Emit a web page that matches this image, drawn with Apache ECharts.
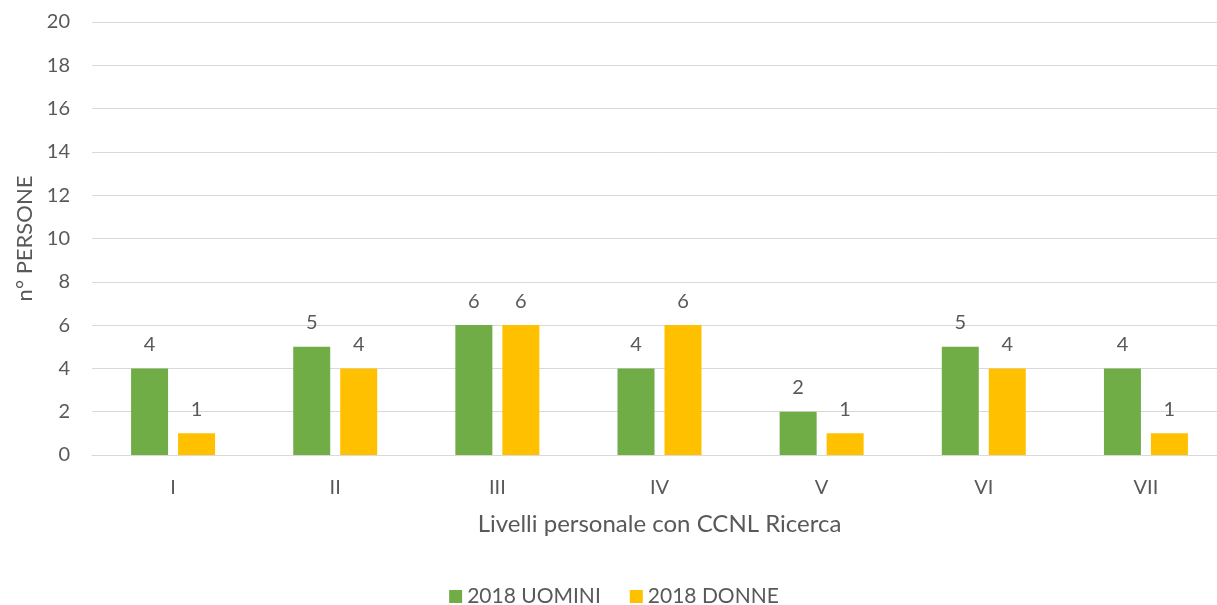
<!DOCTYPE html>
<html>
<head>
<meta charset="utf-8">
<script src="https://cdn.jsdelivr.net/npm/echarts@6/dist/echarts.min.js"></script>
<style>
  html, body { margin: 0; padding: 0; background: #fff; overflow: hidden; }
  /* plot area runs slightly past the right edge of the window */
  #chart { width: 1228px; height: 605px; }
</style>
</head>
<body>
<div id="chart"></div>
<script>
// Livelli CCNL Ricerca
const categories = ['I', 'II', 'III', 'IV', 'V', 'VI', 'VII'];
// Personale per genere, anno 2018
const uomini = [4, 5, 6, 4, 2, 5, 4];
const donne = [1, 4, 6, 6, 1, 4, 1];
const seriesNames = ['2018 UOMINI', '2018 DONNE'];

const textColor = '#595959';
const font = 'Lato, "Open Sans", sans-serif';

const chart = echarts.init(document.getElementById('chart'), null, { renderer: 'canvas' });

const labelStyle = {
  show: true,
  position: 'top',
  distance: 14,
  color: textColor,
  fontFamily: font,
  fontSize: 20
};

chart.setOption({
  animation: false,
  textStyle: { fontFamily: font, color: textColor },
  grid: { left: 92, top: 22, right: 1, height: 433, containLabel: false },
  legend: {
    bottom: -7,
    left: 'center',
    itemWidth: 13,
    itemHeight: 13,
    itemGap: 29,
    icon: 'rect',
    textStyle: { color: textColor, fontSize: 21, fontFamily: font },
    data: seriesNames
  },
  xAxis: {
    type: 'category',
    data: categories,
    name: 'Livelli personale con CCNL Ricerca',
    nameLocation: 'middle',
    nameGap: 57,
    nameTextStyle: { color: textColor, fontSize: 24, fontFamily: font },
    axisLine: { lineStyle: { color: '#D9D9D9', width: 1 } },
    axisTick: { show: false },
    axisLabel: { color: textColor, fontSize: 20, margin: 23, fontFamily: font }
  },
  yAxis: {
    type: 'value',
    min: 0,
    max: 20,
    interval: 2,
    name: 'n° PERSONE',
    nameLocation: 'middle',
    nameGap: 56,
    nameRotate: 90,
    nameTextStyle: { color: textColor, fontSize: 22, fontFamily: font },
    axisLine: { show: false },
    axisTick: { show: false },
    axisLabel: { color: textColor, fontSize: 20, margin: 22, fontFamily: font },
    splitLine: { lineStyle: { color: '#D9D9D9', width: 1 } }
  },
  series: [
    {
      name: seriesNames[0],
      type: 'bar',
      data: uomini,
      barWidth: 37,
      barGap: '27%',
      itemStyle: { color: '#70AD47' },
      label: labelStyle
    },
    {
      name: seriesNames[1],
      type: 'bar',
      data: donne,
      barWidth: 37,
      itemStyle: { color: '#FFC000' },
      label: labelStyle
    }
  ]
});
</script>
</body>
</html>
